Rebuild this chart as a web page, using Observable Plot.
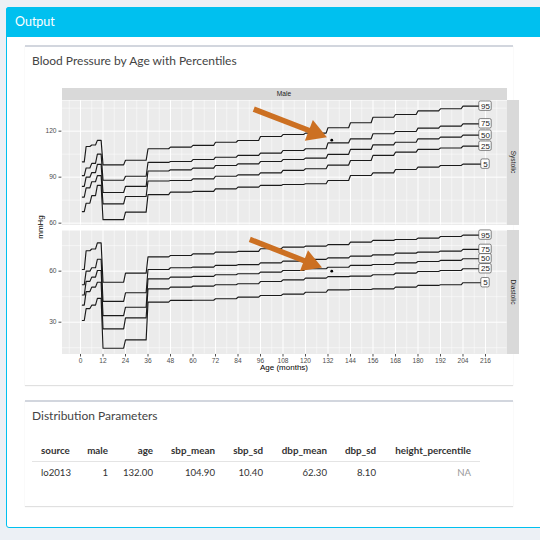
<!DOCTYPE html>
<html><head><meta charset="utf-8">
<script src="https://cdn.jsdelivr.net/npm/d3@7"></script>
<script src="https://cdn.jsdelivr.net/npm/@observablehq/plot@0.6"></script>
<style>
html,body{margin:0;padding:0;background:#ecf0f5;}
#page{position:relative;width:540px;height:540px;overflow:hidden;font-family:Lato,"Open Sans",sans-serif;}
.abs{position:absolute;white-space:nowrap;}
svg{overflow:visible;}
.gg{font-family:"Liberation Sans",Arial,sans-serif;color:#1a1a1a;}
</style></head>
<body><div id="page">
  <div class="abs" style="left:6px;top:7px;width:580px;height:521px;background:#fff;border:1px solid #00c0ef;border-radius:3px;box-sizing:border-box;"></div>
  <div class="abs" style="left:6px;top:7px;width:580px;height:30px;background:#00c0ef;border-radius:3px 3px 0 0;"></div>
  <div class="abs" style="left:15px;top:14px;color:#fff;font-size:12.5px;line-height:16px;">Output</div>

  <div class="abs" style="left:25px;top:45px;width:488px;height:340px;border-top:2px solid #d2d6de;box-shadow:0 1px 1px rgba(0,0,0,0.12);background:#fff;box-sizing:border-box;"></div>
  <div class="abs" style="left:32px;top:53px;color:#444;font-size:12px;line-height:16px;">Blood Pressure by Age with Percentiles</div>

  <div class="abs" style="left:25px;top:400px;width:488px;height:106px;border-top:2px solid #d2d6de;box-shadow:0 1px 1px rgba(0,0,0,0.12);background:#fff;box-sizing:border-box;"></div>
  <div class="abs" style="left:32px;top:408px;color:#444;font-size:12px;line-height:16px;">Distribution Parameters</div>
  <div class="abs" style="left:32px;top:461px;width:448px;height:1px;background:#e4e4e4;"></div>
  <div id="table"></div>

  <div id="plots"></div>

  <div class="abs gg" style="left:61.5px;top:88px;width:445px;height:12px;background:#d9d9d9;font-size:6.6px;line-height:12px;text-align:center;">Male</div>
  <div class="abs gg" style="left:507px;top:100px;width:11.5px;height:124.5px;background:#d9d9d9;"></div>
  <div class="abs gg" style="left:507px;top:230px;width:11.5px;height:123.5px;background:#d9d9d9;"></div>
  <div class="abs gg" style="left:482.75px;top:156.25px;width:60px;height:12px;font-size:6.6px;line-height:12px;text-align:center;transform:rotate(90deg);">Systolic</div>
  <div class="abs gg" style="left:482.75px;top:285.75px;width:60px;height:12px;font-size:6.6px;line-height:12px;text-align:center;transform:rotate(90deg);">Diastolic</div>
  <div class="abs gg" style="left:11px;top:221px;width:60px;height:12px;font-size:8px;line-height:12px;text-align:center;transform:rotate(-90deg);color:#000;">mmHg</div>
  <div class="abs gg" style="left:234px;top:362px;width:100px;height:12px;font-size:8px;line-height:12px;text-align:center;color:#000;">Age (months)</div>
</div>
<script>
// ---------- data ----------
const percentiles = ["5", "25", "50", "75", "95"];
// ages (months) at which each step value begins; final step runs to endAge
const stepAges = [1, 3, 6, 9, 12, 24, 36, 48, 60, 72, 84, 96, 108, 120, 132, 144, 156, 168, 180, 192, 204];
const endAge = 216;

const sbp5  = [67.5, 73, 78, 84.6, 62.3, 67.2, 78.6, 80.2, 80.7, 82.4, 83.5, 84.6, 85.2, 85.7, 87.8, 91.1, 92.8, 95, 96.5, 97.6, 98.5];
const sbp25 = [77, 83, 87, 91, 72.6, 77.4, 87.5, 87.8, 88.9, 90.6, 91.5, 92.8, 94.4, 95.5, 97.9, 100.9, 104.2, 106.3, 108.1, 109, 110.2];
const sbp50 = [84, 90, 93, 98.3, 80, 84, 94, 94.8, 95.9, 97.6, 98.7, 100.2, 101.5, 102.4, 104.9, 108.1, 111.1, 112.8, 115, 116.1, 117.4];
const sbp75 = [91, 96, 99, 105, 88, 90.6, 99.6, 100.2, 101.5, 103, 104.2, 105.7, 107.4, 108.5, 112.4, 115, 118.3, 119.8, 122, 123.3, 124.8];
const sbp95 = [100, 110, 111, 114, 98, 101, 108.5, 109.6, 110.7, 112.8, 113.9, 116.5, 117.8, 118.7, 122.2, 125.5, 129.1, 130.9, 133.2, 134.6, 136.3];

const dbp5  = [31, 38, 40, 44, 14.7, 19.6, 41.8, 42.8, 42.9, 43.8, 44.7, 45.7, 46.5, 47.6, 49, 49.2, 49.6, 50.6, 51.6, 52, 53.2];
const dbp25 = [40, 48, 50.6, 53.5, 26.1, 32.5, 49.6, 50.6, 51.2, 52, 52.6, 53.9, 54.9, 55.9, 56.8, 57.1, 57.9, 58.8, 59.8, 60.4, 61.4];
const dbp50 = [46, 54, 56.5, 60.4, 33.9, 38.8, 55.5, 56.5, 56.9, 57.9, 58.5, 59.4, 60.4, 61.4, 62.3, 63.4, 63.9, 64.9, 65.7, 66.3, 67.3];
const dbp75 = [52, 60, 62, 67, 42.2, 47.3, 61, 62, 62.4, 63.4, 63.8, 64.9, 65.9, 66.9, 67.8, 68.8, 69.6, 70.6, 71.2, 71.8, 72.8];
const dbp95 = [61, 72, 73, 76.6, 53.5, 58.8, 68.4, 69.2, 70.2, 71.2, 71.6, 73.2, 74.1, 74.7, 75.6, 77.1, 78.1, 78.6, 79.4, 80.4, 81.2];

// patient observation
const patientAge = [134];
const patientSbp = [114.1];
const patientDbp = [60];

// annotation arrows (tail and head centre, in data units)
const sbpArrowTail = [92.4, 134.4];
const sbpArrowHead = [125, 119];
const dbpArrowTail = [90.3, 78.65];
const dbpArrowHead = [122.4, 64.8];

const xTicks = [0, 12, 24, 36, 48, 60, 72, 84, 96, 108, 120, 132, 144, 156, 168, 180, 192, 204, 216];
const xMinor = [-6, 6, 18, 30, 42, 54, 66, 78, 90, 102, 114, 126, 138, 150, 162, 174, 186, 198, 210, 222];
const sbpTicks = [60, 90, 120];
const sbpMinor = [75, 105, 135];
const dbpTicks = [30, 60];
const dbpMinor = [15, 45, 75];

const tableHeaders = ["source", "male", "age", "sbp_mean", "sbp_sd", "dbp_mean", "dbp_sd", "height_percentile"];
const tableRow = ["lo2013", "1", "132.00", "104.90", "10.40", "62.30", "8.10", "NA"];

// ---------- build rows ----------
function stepRows(values, pct) {
  const rows = [];
  values.forEach((v, i) => {
    const a0 = stepAges[i];
    const a1 = i + 1 < stepAges.length ? stepAges[i + 1] - 1 : endAge;
    rows.push({age: a0, value: v, pct}, {age: a1, value: v, pct});
  });
  return rows;
}
const sbpSeries = [sbp5, sbp25, sbp50, sbp75, sbp95];
const dbpSeries = [dbp5, dbp25, dbp50, dbp75, dbp95];
const sbpRows = sbpSeries.flatMap((s, i) => stepRows(s, percentiles[i]));
const dbpRows = dbpSeries.flatMap((s, i) => stepRows(s, percentiles[i]));
const sbpLabels = sbpSeries.map((s, i) => ({age: endAge, value: s[s.length - 1], pct: percentiles[i]}));
const dbpLabels = dbpSeries.map((s, i) => ({age: endAge, value: s[s.length - 1], pct: percentiles[i]}));

const ORANGE = "#cc7022";

function panel({rows, labels, yDomain, yTicks, yMinor, dotY, tail, head, height, marginBottom, showX}) {
  const arrow = [{x1: tail[0], y1: tail[1], x2: head[0], y2: head[1]}];
  return Plot.plot({
    width: 540,
    height,
    marginLeft: 61.5,
    marginRight: 33.5,
    marginTop: 0,
    marginBottom,
    style: {fontSize: "6.6px", fontFamily: "Liberation Sans, Arial, sans-serif", color: "#4d4d4d", background: "transparent", overflow: "visible"},
    x: showX ? {domain: [-9.87, 227.47], ticks: xTicks, tickSize: 3, tickPadding: 1.5, label: null} : {domain: [-9.87, 227.47], axis: null},
    y: {domain: yDomain, ticks: yTicks, tickSize: 3, tickPadding: 2.5, label: null},
    marks: [
      Plot.frame({fill: "#ebebeb", stroke: "none"}),
      Plot.ruleX(xMinor, {stroke: "#fff", strokeWidth: 0.5}),
      Plot.ruleY(yMinor, {stroke: "#fff", strokeWidth: 0.5}),
      Plot.ruleX(xTicks, {stroke: "#fff", strokeWidth: 1}),
      Plot.ruleY(yTicks, {stroke: "#fff", strokeWidth: 1}),
      Plot.line(rows, {x: "age", y: "value", z: "pct", stroke: "#1a1a1a", strokeWidth: 1.15}),
      Plot.link(arrow, {x1: "x1", y1: "y1", x2: "x2", y2: "y2", stroke: ORANGE, strokeWidth: 5.5}),
      Plot.dot([head], {x: d => d[0], y: d => d[1], symbol: "triangle", r: 8.3, fill: ORANGE, stroke: "none", rotate: 111}),
      Plot.dot(patientAge.map((a, i) => ({age: a, value: dotY[i]})), {x: "age", y: "value", r: 1.4, fill: "#000", stroke: "none"}),
      Plot.rect(labels.filter(d => d.pct.length > 1), {x1: "age", x2: "age", y1: "value", y2: "value",
        insetLeft: -6.2, insetRight: -6.2, insetTop: -4.7, insetBottom: -4.7, fill: "#fff", stroke: "#333", strokeWidth: 0.6, rx: 1.5}),
      Plot.rect(labels.filter(d => d.pct.length === 1), {x1: "age", x2: "age", y1: "value", y2: "value",
        insetLeft: -4.2, insetRight: -4.2, insetTop: -4.7, insetBottom: -4.7, fill: "#fff", stroke: "#333", strokeWidth: 0.6, rx: 1.5}),
      Plot.text(labels, {x: "age", y: "value", text: "pct", fill: "#1a1a1a", fontSize: 8})
    ]
  });
}

const plotsDiv = document.getElementById("plots");
function place(node, top) {
  const d = document.createElement("div");
  d.className = "abs";
  d.style.left = "0px";
  d.style.top = top + "px";
  d.appendChild(node);
  plotsDiv.appendChild(d);
}
place(panel({rows: sbpRows, labels: sbpLabels, yDomain: [58.8, 140], yTicks: sbpTicks, yMinor: sbpMinor,
  dotY: patientSbp, tail: sbpArrowTail, head: sbpArrowHead, height: 124.5, marginBottom: 0, showX: false}), 100);
place(panel({rows: dbpRows, labels: dbpLabels, yDomain: [11.3, 83.9], yTicks: dbpTicks, yMinor: dbpMinor,
  dotY: patientDbp, tail: dbpArrowTail, head: dbpArrowHead, height: 139.5, marginBottom: 16, showX: true}), 230);

// ---------- table ----------
const colLeft = [41, null, null, null, null, null, null, null];
const colRight = [null, 108, 153, 215, 263, 327, 376, 471];
const tableDiv = document.getElementById("table");
function cell(text, i, top, bold, color) {
  const d = document.createElement("div");
  d.className = "abs";
  d.textContent = text;
  d.style.top = top + "px";
  d.style.lineHeight = "14px";
  d.style.fontSize = bold ? "9.8px" : "9.6px";
  d.style.fontWeight = bold ? "700" : "400";
  d.style.color = color;
  if (colLeft[i] != null) { d.style.left = colLeft[i] + "px"; }
  else { d.style.left = (colRight[i] - 150) + "px"; d.style.width = "150px"; d.style.textAlign = "right"; }
  tableDiv.appendChild(d);
}
tableHeaders.forEach((h, i) => cell(h, i, 443, true, "#333"));
tableRow.forEach((v, i) => cell(v, i, 466, false, v === "NA" ? "#999" : "#333"));
</script>
</body></html>
